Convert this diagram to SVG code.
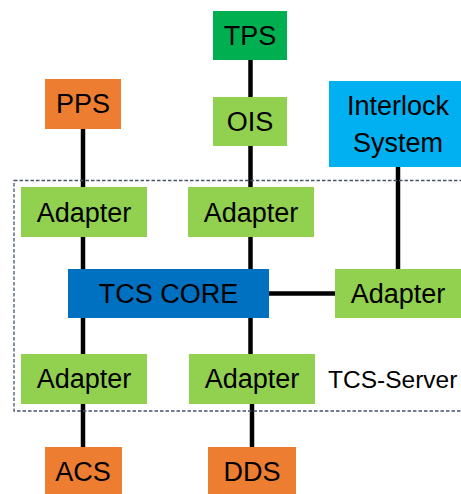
<svg xmlns="http://www.w3.org/2000/svg" width="461" height="494" viewBox="0 0 461 494">
<style>
text{font-family:"Liberation Sans",Arial,sans-serif;font-size:27px;fill:#000;text-anchor:middle}
.c{stroke:#000;stroke-width:4.5;fill:none}
.g{fill:#92D050}
.o{fill:#ED7D31}
</style>
<rect width="461" height="494" fill="#fff"/>
<g id="connectors">
<line class="c" x1="83" y1="129" x2="83" y2="187"/>
<line class="c" x1="250.5" y1="60" x2="250.5" y2="97"/>
<line class="c" x1="250.5" y1="146" x2="250.5" y2="187"/>
<line class="c" x1="398" y1="167" x2="398" y2="269"/>
<line class="c" x1="83" y1="237" x2="83" y2="269"/>
<line class="c" x1="250.5" y1="237" x2="250.5" y2="269"/>
<line class="c" x1="269" y1="293.5" x2="335" y2="293.5"/>
<line class="c" x1="83" y1="318" x2="83" y2="354"/>
<line class="c" x1="250.5" y1="318" x2="250.5" y2="354"/>
<line class="c" x1="83" y1="404" x2="83" y2="447"/>
<line class="c" x1="252" y1="404" x2="252" y2="447"/>
</g>
<g id="tcs-server">
<rect x="14" y="180.5" width="460" height="230.5" fill="none" stroke="#44546A" stroke-width="1.3" stroke-dasharray="3.5,2"/>
<text x="328" y="388" style="text-anchor:start;font-size:24.5px">TCS-Server</text>
</g>
<g id="tps"><rect x="213" y="11" width="74" height="49" fill="#00B050"/><text x="250" y="45">TPS</text></g>
<g id="pps"><rect class="o" x="45" y="79" width="76" height="50"/><text x="83" y="113">PPS</text></g>
<g id="ois"><rect class="g" x="213" y="97" width="74" height="49"/><text x="250" y="131">OIS</text></g>
<g id="interlock"><rect x="329" y="81" width="132" height="86" fill="#00B0F0"/><text x="398" y="115">Interlock</text><text x="398" y="152">System</text></g>
<g id="adapter-pps"><rect class="g" x="21" y="187" width="126" height="50"/><text x="84" y="221.5">Adapter</text></g>
<g id="adapter-ois"><rect class="g" x="188" y="187" width="126" height="50"/><text x="251" y="221.5">Adapter</text></g>
<g id="tcs-core"><rect x="68" y="269" width="201" height="49" fill="#0070C0"/><text x="168.5" y="303">TCS CORE</text></g>
<g id="adapter-interlock"><rect class="g" x="335" y="269" width="126" height="49"/><text x="398" y="303">Adapter</text></g>
<g id="adapter-acs"><rect class="g" x="21" y="354" width="126" height="50"/><text x="84" y="388">Adapter</text></g>
<g id="adapter-dds"><rect class="g" x="189" y="354" width="126" height="50"/><text x="252" y="388">Adapter</text></g>
<g id="acs"><rect class="o" x="45" y="447" width="77" height="47"/><text x="83" y="481">ACS</text></g>
<g id="dds"><rect class="o" x="208" y="447" width="88" height="47"/><text x="252" y="481">DDS</text></g>
</svg>
